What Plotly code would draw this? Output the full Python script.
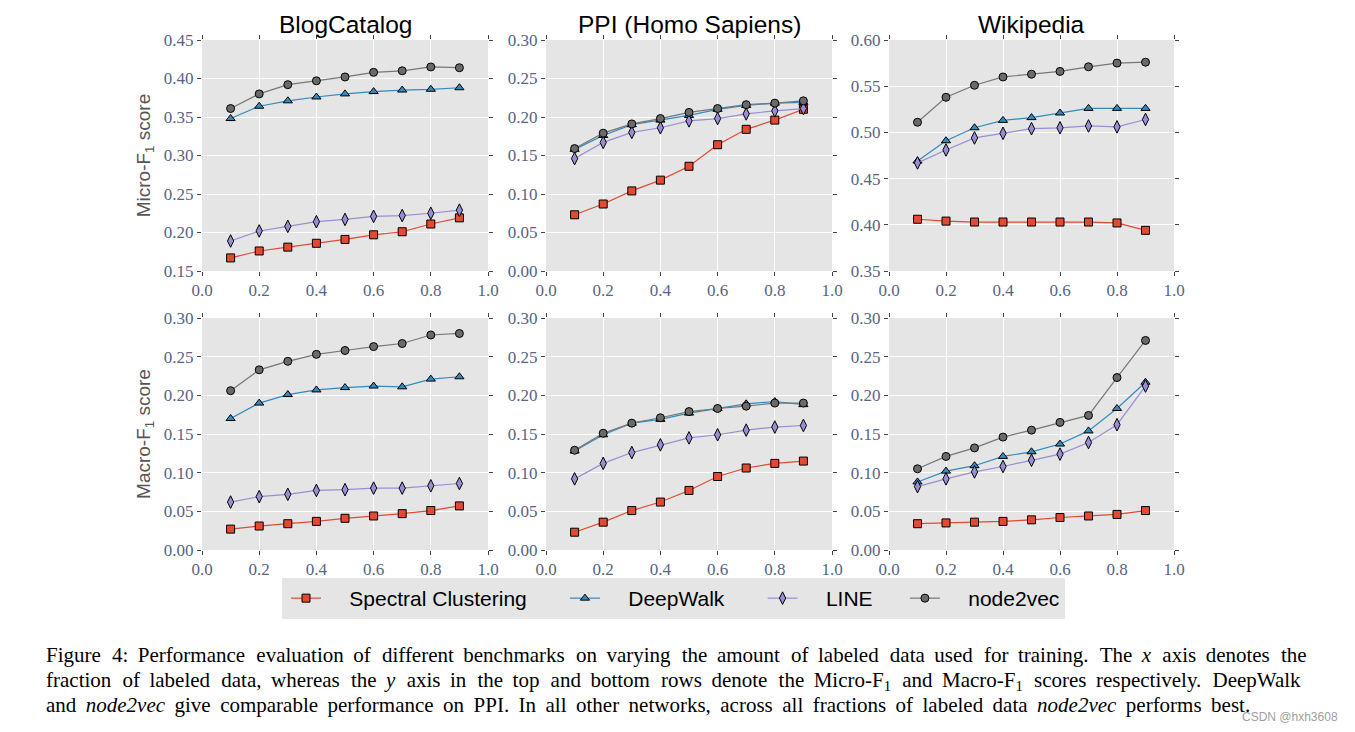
import plotly.graph_objects as go

W, H = 1355, 732

fractions = [0.1, 0.2, 0.3, 0.4, 0.5, 0.6, 0.7, 0.8, 0.9]
methods = ["Spectral Clustering", "DeepWalk", "LINE", "node2vec"]
datasets = ["BlogCatalog", "PPI (Homo Sapiens)", "Wikipedia"]
x_ticks = [0.0, 0.2, 0.4, 0.6, 0.8, 1.0]

# Micro-F1 (top row)
blog_micro_spectral = [0.167, 0.176, 0.181, 0.186, 0.191, 0.197, 0.201, 0.211, 0.219]
blog_micro_deepwalk = [0.348, 0.364, 0.371, 0.376, 0.380, 0.383, 0.385, 0.386, 0.388]
blog_micro_line = [0.189, 0.202, 0.208, 0.214, 0.217, 0.221, 0.222, 0.225, 0.229]
blog_micro_node2vec = [0.361, 0.380, 0.392, 0.397, 0.402, 0.408, 0.410, 0.415, 0.414]

ppi_micro_spectral = [0.073, 0.087, 0.104, 0.118, 0.136, 0.164, 0.184, 0.196, 0.210]
ppi_micro_deepwalk = [0.158, 0.176, 0.190, 0.196, 0.202, 0.210, 0.215, 0.218, 0.219]
ppi_micro_line = [0.146, 0.167, 0.180, 0.186, 0.195, 0.198, 0.204, 0.208, 0.211]
ppi_micro_node2vec = [0.159, 0.179, 0.191, 0.198, 0.206, 0.211, 0.216, 0.218, 0.221]

wiki_micro_spectral = [0.406, 0.404, 0.403, 0.403, 0.403, 0.403, 0.403, 0.402, 0.394]
wiki_micro_deepwalk = [0.469, 0.491, 0.505, 0.513, 0.516, 0.521, 0.526, 0.526, 0.526]
wiki_micro_line = [0.467, 0.481, 0.494, 0.499, 0.504, 0.505, 0.507, 0.506, 0.514]
wiki_micro_node2vec = [0.511, 0.538, 0.551, 0.560, 0.563, 0.566, 0.571, 0.575, 0.576]

# Macro-F1 (bottom row)
blog_macro_spectral = [0.027, 0.031, 0.034, 0.037, 0.041, 0.044, 0.047, 0.051, 0.057]
blog_macro_deepwalk = [0.170, 0.190, 0.201, 0.207, 0.210, 0.212, 0.211, 0.221, 0.224]
blog_macro_line = [0.062, 0.069, 0.072, 0.077, 0.078, 0.080, 0.080, 0.083, 0.086]
blog_macro_node2vec = [0.206, 0.233, 0.244, 0.253, 0.258, 0.263, 0.267, 0.278, 0.280]

ppi_macro_spectral = [0.023, 0.036, 0.051, 0.062, 0.077, 0.095, 0.106, 0.112, 0.115]
ppi_macro_deepwalk = [0.128, 0.149, 0.164, 0.169, 0.177, 0.183, 0.189, 0.192, 0.188]
ppi_macro_line = [0.092, 0.112, 0.126, 0.136, 0.145, 0.149, 0.155, 0.159, 0.161]
ppi_macro_node2vec = [0.129, 0.151, 0.164, 0.171, 0.179, 0.183, 0.186, 0.190, 0.190]

wiki_macro_spectral = [0.034, 0.035, 0.036, 0.037, 0.039, 0.042, 0.044, 0.046, 0.051]
wiki_macro_deepwalk = [0.088, 0.102, 0.109, 0.121, 0.127, 0.137, 0.154, 0.183, 0.217]
wiki_macro_line = [0.082, 0.092, 0.101, 0.108, 0.116, 0.124, 0.139, 0.162, 0.212]
wiki_macro_node2vec = [0.105, 0.121, 0.132, 0.146, 0.155, 0.165, 0.174, 0.223, 0.271]

y_ranges = [[0.15, 0.45], [0.0, 0.30], [0.35, 0.60], [0.0, 0.30], [0.0, 0.30], [0.0, 0.30]]

panels = [
    [blog_micro_spectral, blog_micro_deepwalk, blog_micro_line, blog_micro_node2vec],
    [ppi_micro_spectral, ppi_micro_deepwalk, ppi_micro_line, ppi_micro_node2vec],
    [wiki_micro_spectral, wiki_micro_deepwalk, wiki_micro_line, wiki_micro_node2vec],
    [blog_macro_spectral, blog_macro_deepwalk, blog_macro_line, blog_macro_node2vec],
    [ppi_macro_spectral, ppi_macro_deepwalk, ppi_macro_line, ppi_macro_node2vec],
    [wiki_macro_spectral, wiki_macro_deepwalk, wiki_macro_line, wiki_macro_node2vec],
]

line_colors = ["#E24A33", "#348ABD", "#988ED5", "#777777"]
marker_colors = ["#E24A33", "#348ABD", "#988ED5", "#6a6a6a"]
symbols = ["square", "triangle-up", "diamond-tall", "circle"]
msizes = [8, 8, 9, 8]
NB = "\u00a0"
legend_lead = 4
legend_trail = [5, 5, 4, 0]

# layout geometry in pixels
col_px = [(202, 488), (546, 832), (889, 1174)]
row_px = [(40, 271), (318, 550)]

fig = go.Figure()

tick_font = dict(family="Liberation Serif", size=17, color="#566585")

for p in range(6):
    r, c = divmod(p, 3)
    idx = p + 1
    xa = "x" if idx == 1 else f"x{idx}"
    ya = "y" if idx == 1 else f"y{idx}"
    for m in range(4):
        fig.add_trace(go.Scatter(
            x=fractions, y=panels[p][m], mode="lines+markers",
            name=NB * legend_lead + methods[m] + NB * legend_trail[m],
            legendgroup=methods[m], showlegend=(p == 0),
            line=dict(color=line_colors[m], width=1.2),
            marker=dict(symbol=symbols[m], size=msizes[m], color=marker_colors[m],
                        line=dict(color="black", width=1)),
            xaxis=xa, yaxis=ya,
        ))
    x0, x1 = col_px[c]
    y0, y1 = row_px[r]
    xkey = "xaxis" if idx == 1 else f"xaxis{idx}"
    ykey = "yaxis" if idx == 1 else f"yaxis{idx}"
    fig.layout[xkey] = dict(
        domain=[x0 / W, x1 / W], anchor=ya, range=[0, 1],
        tickvals=x_ticks, ticktext=[f"{v:.1f}" for v in x_ticks],
        showgrid=True, gridcolor="white", gridwidth=1, zeroline=False,
        showline=False, ticks="outside", ticklen=4, tickcolor="#444", mirror="ticks",
        tickfont=tick_font,
    )
    lo, hi = y_ranges[p]
    yt = [round(lo + 0.05 * k, 2) for k in range(int(round((hi - lo) / 0.05)) + 1)]
    fig.layout[ykey] = dict(
        domain=[1 - y1 / H, 1 - y0 / H], anchor=xa, range=[lo, hi],
        tickvals=yt, ticktext=[f"{v:.2f}" for v in yt],
        showgrid=True, gridcolor="white", gridwidth=1, zeroline=False,
        showline=False, ticks="outside", ticklen=4, tickcolor="#444", mirror="ticks",
        tickfont=tick_font,
    )
    if c == 0:
        fig.layout[ykey].title = dict(
            text=("Micro-F<sub>1</sub> score" if r == 0 else "Macro-F<sub>1</sub> score"),
            font=dict(family="Liberation Sans", size=19, color="#555555"), standoff=8)

# subplot titles
annotations = []
for c in range(3):
    x0, x1 = col_px[c]
    annotations.append(dict(
        text=datasets[c], x=(x0 + x1) / 2 / W, y=1 - 25 / H, xref="paper", yref="paper",
        xanchor="center", yanchor="middle", showarrow=False,
        font=dict(family="Liberation Sans", size=24.5, color="black")))

caption_lines = [
    "Figure 4: Performance evaluation of different benchmarks on varying the amount of labeled data used for training. The <i>x</i> axis denotes the",
    "fraction of labeled data, whereas the <i>y</i> axis in the top and bottom rows denote the Micro-F<sub>1</sub> and Macro-F<sub>1</sub> scores respectively. DeepWalk",
    "and <i>node2vec</i> give comparable performance on PPI. In all other networks, across all fractions of labeled data <i>node2vec</i> performs best.",
]
caption_top = [641, 666, 691]
caption_justify = [True, True, False]


def spread(line, justify):
    words = line.split(" ")
    out = words[0]
    for k, w in enumerate(words[1:]):
        gap = " \u2009"
        if justify and k % 2 == 0:
            gap += "\u200a"
        out += gap + w
    return out


for t, yy, jf in zip(caption_lines, caption_top, caption_justify):
    annotations.append(dict(
        text=spread(t, jf),
        x=44 / W, y=1 - yy / H, xref="paper", yref="paper",
        xanchor="left", yanchor="top", align="left", showarrow=False,
        font=dict(family="Liberation Serif", size=21, color="black")))

annotations.append(dict(
    text="CSDN @hxh3608", x=1340 / W, y=1 - 717 / H, xref="paper", yref="paper",
    xanchor="right", yanchor="middle", align="right", showarrow=False,
    font=dict(family="Liberation Sans", size=12, color="#a0a0a0")))

fig.update_layout(
    width=W, height=H,
    margin=dict(l=0, r=0, t=0, b=0, autoexpand=False),
    paper_bgcolor="white", plot_bgcolor="#e5e5e5",
    annotations=annotations,
    legend=dict(
        orientation="h", x=282 / W, xanchor="left", y=1 - 578 / H, yanchor="top",
        bgcolor="#e5e5e5", borderwidth=0, indentation=4,
        font=dict(family="Liberation Sans", size=21, color="black"),
        itemwidth=30,
    ),
)

fig.write_html("out.html")
